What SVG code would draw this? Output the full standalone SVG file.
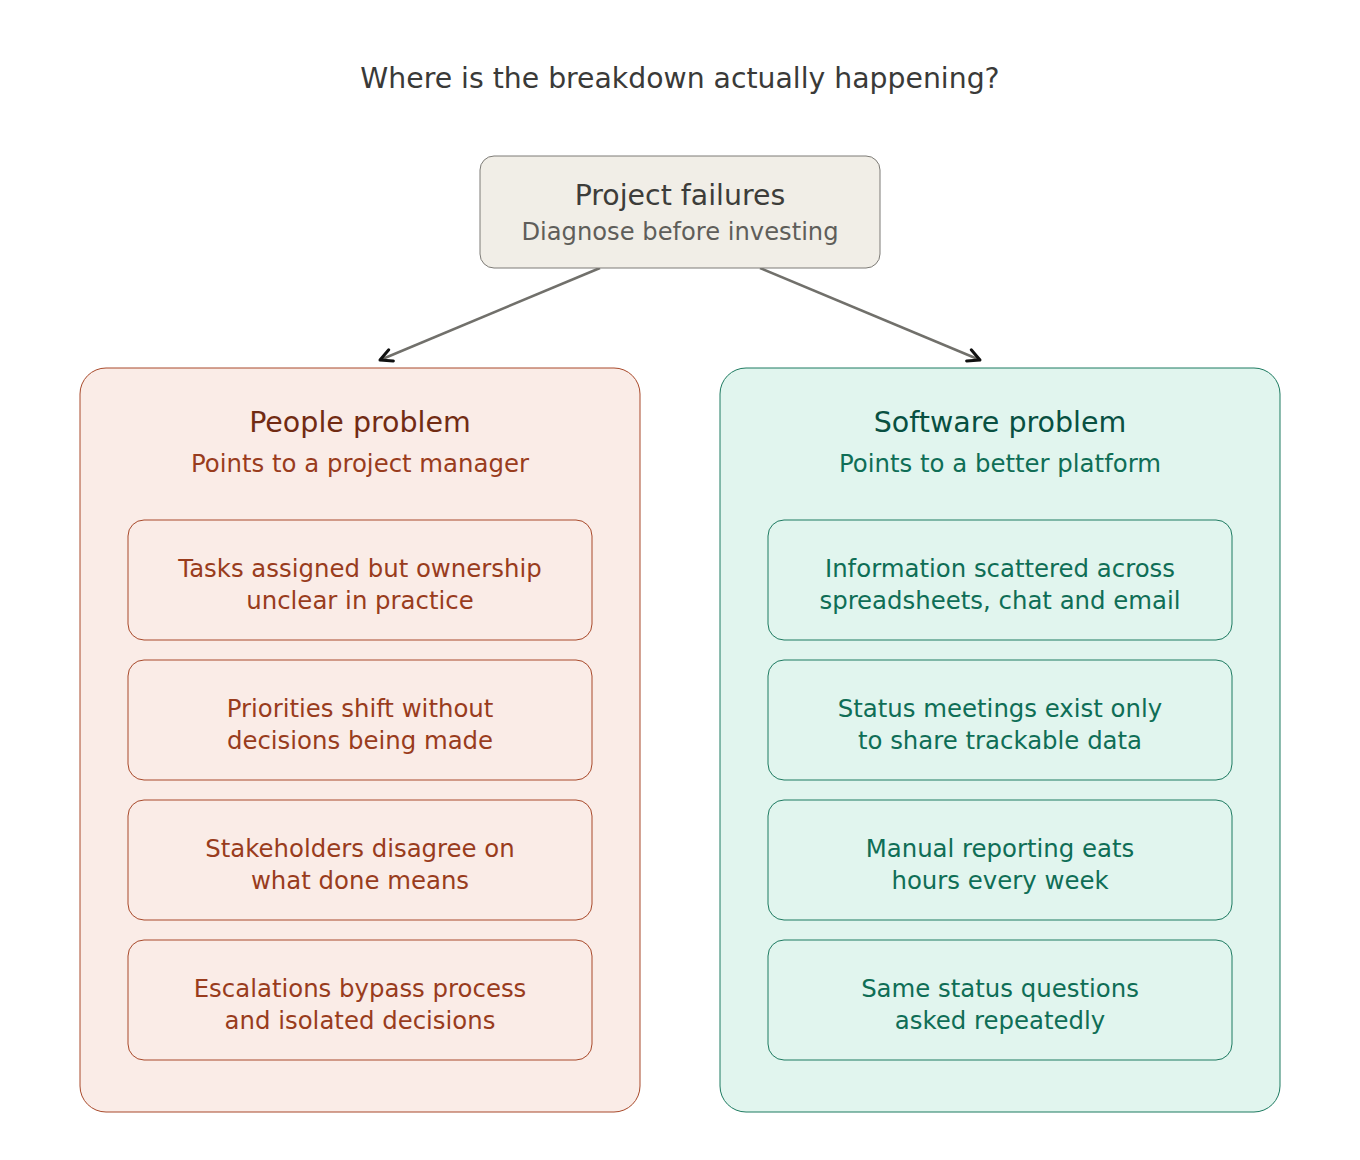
<svg xmlns="http://www.w3.org/2000/svg" width="1360" height="1160" viewBox="0 0 1360 1160">
  <defs>
    <marker id="arrow" markerUnits="userSpaceOnUse" markerWidth="20" markerHeight="20" viewBox="0 0 20 20" refX="16" refY="10" orient="auto">
      <path d="M4 4 L16 10 L4 16" fill="none" stroke="#111111" stroke-width="3" stroke-linecap="round" stroke-linejoin="round"/>
    </marker>
    <style>
      text { font-family: "DejaVu Sans", Verdana, sans-serif; text-anchor: middle; }
      .title { font-size: 28.3px; fill: #3a3a38; }
      .gray-box { fill: #F1EEE7; stroke: #7d7b76; stroke-width: 1; }
      .gray-h { font-size: 28.4px; fill: #3d3d3a; }
      .gray-s { font-size: 24.2px; fill: #5F5E5A; }
      .coral-box { fill: #FAECE7; stroke: #A8492A; stroke-width: 1; }
      .coral-h { font-size: 28.5px; fill: #712B13; }
      .coral-t { font-size: 24.4px; fill: #993C1D; }
      .teal-box { fill: #E1F5EE; stroke: #1D7A60; stroke-width: 1; }
      .teal-h { font-size: 28.5px; fill: #085041; }
      .teal-t { font-size: 24.4px; fill: #0F6E56; }
      .conn { stroke: #71706b; stroke-width: 2.5; fill: none; }
    </style>
  </defs>
  <rect width="1360" height="1160" fill="#ffffff"/>

  <text class="title" x="680" y="88">Where is the breakdown actually happening?</text>

  <g id="connectors">
    <line class="conn" x1="600" y1="268" x2="380" y2="360" marker-end="url(#arrow)"/>
    <line class="conn" x1="760" y1="268" x2="980" y2="360" marker-end="url(#arrow)"/>
  </g>

  <g id="project-failures">
    <rect class="gray-box" x="480" y="156" width="400" height="112" rx="14"/>
    <text class="gray-h" x="680" y="205">Project failures</text>
    <text class="gray-s" x="680" y="240">Diagnose before investing</text>
  </g>

  <g id="people-problem">
    <rect class="coral-box" x="80" y="368" width="560" height="744" rx="26"/>
    <text class="coral-h" x="360" y="432">People problem</text>
    <text class="coral-t" x="360" y="472">Points to a project manager</text>
  </g>

  <g id="people-1">
    <rect class="coral-box" x="128" y="520" width="464" height="120" rx="16"/>
    <text class="coral-t" x="360" y="577">Tasks assigned but ownership</text>
    <text class="coral-t" x="360" y="609">unclear in practice</text>
  </g>
  <g id="people-2">
    <rect class="coral-box" x="128" y="660" width="464" height="120" rx="16"/>
    <text class="coral-t" x="360" y="717">Priorities shift without</text>
    <text class="coral-t" x="360" y="749">decisions being made</text>
  </g>
  <g id="people-3">
    <rect class="coral-box" x="128" y="800" width="464" height="120" rx="16"/>
    <text class="coral-t" x="360" y="857">Stakeholders disagree on</text>
    <text class="coral-t" x="360" y="889">what done means</text>
  </g>
  <g id="people-4">
    <rect class="coral-box" x="128" y="940" width="464" height="120" rx="16"/>
    <text class="coral-t" x="360" y="997">Escalations bypass process</text>
    <text class="coral-t" x="360" y="1029">and isolated decisions</text>
  </g>

  <g id="software-problem">
    <rect class="teal-box" x="720" y="368" width="560" height="744" rx="26"/>
    <text class="teal-h" x="1000" y="432">Software problem</text>
    <text class="teal-t" x="1000" y="472">Points to a better platform</text>
  </g>

  <g id="software-1">
    <rect class="teal-box" x="768" y="520" width="464" height="120" rx="16"/>
    <text class="teal-t" x="1000" y="577">Information scattered across</text>
    <text class="teal-t" x="1000" y="609">spreadsheets, chat and email</text>
  </g>
  <g id="software-2">
    <rect class="teal-box" x="768" y="660" width="464" height="120" rx="16"/>
    <text class="teal-t" x="1000" y="717">Status meetings exist only</text>
    <text class="teal-t" x="1000" y="749">to share trackable data</text>
  </g>
  <g id="software-3">
    <rect class="teal-box" x="768" y="800" width="464" height="120" rx="16"/>
    <text class="teal-t" x="1000" y="857">Manual reporting eats</text>
    <text class="teal-t" x="1000" y="889">hours every week</text>
  </g>
  <g id="software-4">
    <rect class="teal-box" x="768" y="940" width="464" height="120" rx="16"/>
    <text class="teal-t" x="1000" y="997">Same status questions</text>
    <text class="teal-t" x="1000" y="1029">asked repeatedly</text>
  </g>
</svg>
